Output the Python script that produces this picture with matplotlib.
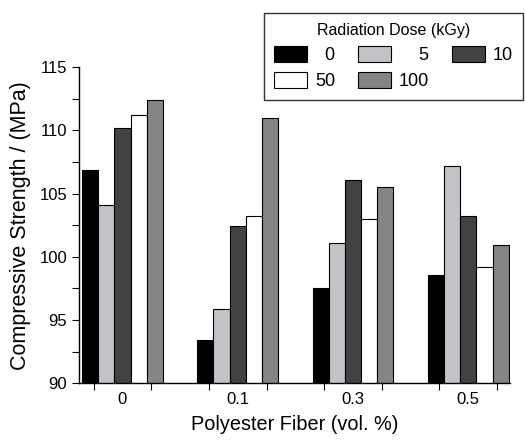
import numpy as np
import matplotlib.pyplot as plt
from matplotlib.ticker import MultipleLocator

plt.rcParams["font.family"] = ["Liberation Sans", "DejaVu Sans"]

# Data
fiber_labels = ["0", "0.1", "0.3", "0.5"]
dose_labels = ["0", "5", "10", "50", "100"]
strength_0 = [106.9, 93.4, 97.5, 98.6]
strength_5 = [104.1, 95.9, 101.1, 107.2]
strength_10 = [110.2, 102.4, 106.1, 103.2]
strength_50 = [111.2, 103.2, 103.0, 99.2]
strength_100 = [112.4, 111.0, 105.5, 100.9]

series = [strength_0, strength_5, strength_10, strength_50, strength_100]
colors = ["#000000", "#c4c2c6", "#424242", "#ffffff", "#858385"]

fig = plt.figure(figsize=(5.25, 4.41), dpi=100)
ax = fig.add_axes([0.1505, 0.1308, 0.8205, 0.7172])

x = np.arange(len(fiber_labels))
width = 0.1405
handles = []
for k, (vals, col) in enumerate(zip(series, colors)):
    b = ax.bar(x + (k - 2) * width, vals, width, bottom=0, color=col,
               edgecolor="black", linewidth=0.8, label=dose_labels[k])
    handles.append(b)

ax.set_ylim(90, 115)
ax.set_xlim(-0.377, 3.36)
ax.yaxis.set_major_locator(MultipleLocator(5))
ax.yaxis.set_minor_locator(MultipleLocator(2.5))
ax.set_xticks(x, fiber_labels)
ax.set_xticks(np.arange(-0.25, 3.5, 0.5), minor=True)
ax.tick_params(axis="x", which="major", length=0, labelsize=12, pad=6)
ax.tick_params(axis="x", which="minor", length=5, width=0.8)
ax.tick_params(axis="y", which="both", length=5, width=0.8, labelsize=12)
for s in ["top", "right"]:
    ax.spines[s].set_visible(False)
for s in ["left", "bottom"]:
    ax.spines[s].set_linewidth(1.0)

ax.set_xlabel("Polyester Fiber (vol. %)", fontsize=14.3, labelpad=6)
ax.set_ylabel("Compressive Strength / (MPa)", fontsize=15.5, labelpad=6)

# legend: 3 columns, rows 0 5 10 / 50 100, numbers right-aligned
fsp = "\u2007"
order = [0, 3, 1, 4, 2]
leg_text = {0: fsp + "0", 3: "50", 1: fsp * 2 + "5", 4: "100", 2: "10"}
leg = fig.legend([handles[i] for i in order], [leg_text[i] for i in order],
                 ncol=3, title="Radiation Dose (kGy)", fontsize=13,
                 title_fontsize=11.5, loc="upper left",
                 bbox_to_anchor=(0.503, 0.773, 0.493, 0.197), mode="expand",
                 borderaxespad=0, frameon=True, fancybox=False,
                 edgecolor="black", handlelength=1.83, handleheight=1.0,
                 handletextpad=0.45, columnspacing=1.0, labelspacing=0.42,
                 borderpad=0.55)
leg.get_frame().set_linewidth(1.0)

fig.savefig("out.png", dpi=100)
